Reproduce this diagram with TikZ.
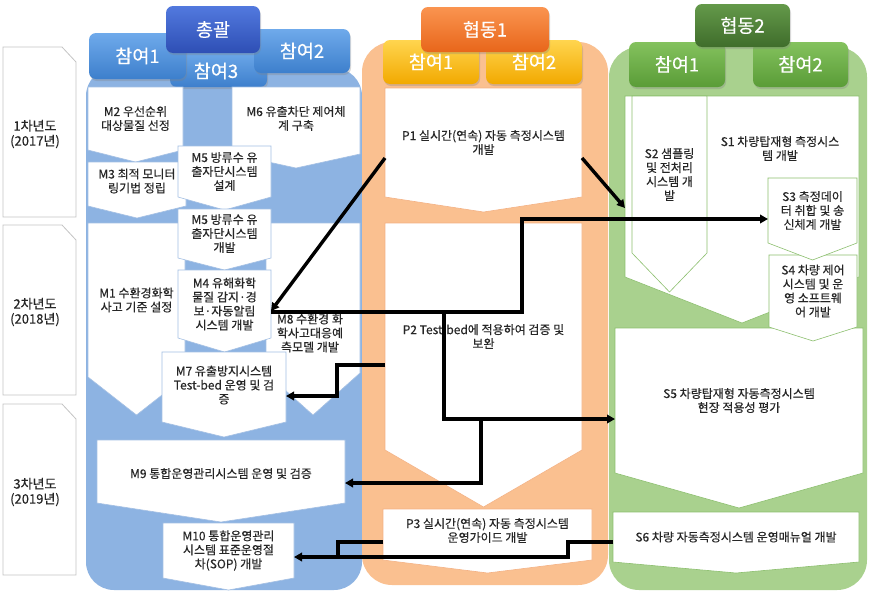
\documentclass[tikz,border=0pt]{standalone}
\usepackage{fontspec}
\setmainfont{Noto Sans CJK KR}
\newfontfamily\boxfont{Noto Sans CJK KR}[FakeBold=0.3]
\usetikzlibrary{shadows,arrows.meta,calc}
\definecolor{bluebg}{HTML}{8DB3E2}
\definecolor{orangebg}{HTML}{FAC090}
\definecolor{greenbg}{HTML}{A9D18E}
\definecolor{bluebd}{HTML}{A3BFE3}
\definecolor{orangebd}{HTML}{F4B183}
\definecolor{greenbd}{HTML}{8CBF6E}
\definecolor{yearbd}{HTML}{C4C4C4}
\definecolor{txtc}{HTML}{262626}
\definecolor{chongT}{HTML}{5279DE}
\definecolor{chongB}{HTML}{2E4FB5}
\definecolor{bpT}{HTML}{6FAAEB}
\definecolor{bpB}{HTML}{3D7FCC}
\definecolor{hdoT}{HTML}{FA9450}
\definecolor{hdoB}{HTML}{E8661A}
\definecolor{ylT}{HTML}{FFD54F}
\definecolor{ylB}{HTML}{F2A900}
\definecolor{hdgT}{HTML}{64994A}
\definecolor{hdgB}{HTML}{3F6D2B}
\definecolor{gpT}{HTML}{84C25E}
\definecolor{gpB}{HTML}{5A9C37}
\tikzset{
  chevst/.style={fill=white, draw=#1, line width=0.6pt, line join=miter},
  boxarea/.style={inner sep=0pt, outer sep=0pt, draw=none, rectangle},
  txt/.style={align=center, text=txtc, font=\boxfont\fontsize{12}{14}\selectfont, inner sep=1pt},
  hdr/.style={rounded corners=7pt, text=white, font=\boxfont\fontsize{18.5}{20}\selectfont, inner sep=0pt,
    drop shadow={opacity=0.3, shadow xshift=1pt, shadow yshift=-2pt}},
  conn/.style={line width=3.4pt, draw=black, line join=miter},
  arr/.style={-{Triangle[length=8pt,width=8.5pt]}},
  yearbox/.style={fill=white, draw=yearbd, line width=0.8pt},
  yeartxt/.style={align=center, font=\boxfont\fontsize{13}{15}\selectfont, text=txtc, inner sep=0pt},
}
\newcommand\chev[7]{%
  \path[chevst=#7] (#2,#3) -- (#4,#3) -- (#4,#5) -- ({(#2+#4)/2},#6) -- (#2,#5) -- cycle;
  \node[boxarea, minimum width={#4-#2}, minimum height={#5-#3}] (#1) at ({(#2+#4)/2},{(#3+#5)/2}) {};
}
\newcommand\yearshape[2]{%
  \path[yearbox] (3,#1) -- (62,#1) -- (76,{#1+15}) -- (76,#2) -- (3,#2) -- cycle;
}
\begin{document}
\begin{tikzpicture}[x=1pt,y=-1pt]
\useasboundingbox (0,0) rectangle (870,592);
\fill[white] (0,0) rectangle (870,592);

% year labels
\yearshape{47}{217}
\node[yeartxt] (yr1) at (35,134) {1차년도\\(2017년)};
\yearshape{225}{395}
\node[yeartxt] (yr2) at (35,312) {2차년도\\(2018년)};
\yearshape{404}{575}
\node[yeartxt] (yr3) at (35,492) {3차년도\\(2019년)};

% column backgrounds
\fill[bluebg, rounded corners=28pt] (86,68) rectangle (362,590);
\fill[orangebg, rounded corners=30pt] (362,42) rectangle (608,585);
\fill[greenbg, rounded corners=30pt] (609,47) rectangle (867,590);

% blue headers
\node[hdr, top color=bpT, bottom color=bpB, minimum width=97, minimum height=37] (bh3) at (218.5,68.5) {};
\node[text=white, font=\boxfont\fontsize{18.5}{20}\selectfont, inner sep=0pt] (bh3t) at (216,71) {참여3};
\node[hdr, top color=bpT, bottom color=bpB, minimum width=97, minimum height=46] (bh1) at (137.5,56) {참여1};
\node[hdr, top color=bpT, bottom color=bpB, minimum width=96, minimum height=44] (bh2) at (302,51) {참여2};
\node[hdr, top color=chongT, bottom color=chongB, minimum width=94, minimum height=47] (bh0) at (213,29.5) {총괄};

% orange headers
\node[hdr, top color=ylT, bottom color=ylB, minimum width=96, minimum height=44] (oh1) at (431,62) {참여1};
\node[hdr, top color=ylT, bottom color=ylB, minimum width=96, minimum height=44] (oh2) at (534,62) {참여2};
\node[hdr, top color=hdoT, bottom color=hdoB, minimum width=128, minimum height=45] (oh0) at (485,29.5) {협동1};

% green headers
\node[hdr, top color=gpT, bottom color=gpB, minimum width=96, minimum height=45] (gh1) at (677,64.5) {참여1};
\node[hdr, top color=gpT, bottom color=gpB, minimum width=95, minimum height=45] (gh2) at (800.5,64.5) {참여2};
\node[hdr, top color=hdgT, bottom color=hdgB, minimum width=95, minimum height=43] (gh0) at (742.5,25.5) {협동2};

% blue boxes
\chev{M2}{88}{87}{183}{150}{162}{bluebd}
\chev{M6}{232}{87}{360}{154}{168}{bluebd}
\chev{M3}{88}{162}{186}{206}{218}{bluebd}
\chev{M5a}{178}{146}{271}{197}{210}{bluebd}
\chev{M1}{88}{223}{185}{377}{415}{bluebd}
\chev{M8}{266}{223}{360}{373}{415}{bluebd}
\chev{M5b}{178}{209}{271}{258}{270}{bluebd}
\chev{M4}{178}{270}{271}{338}{352}{bluebd}
\chev{M7}{162}{352}{286}{422}{437}{bluebd}
\chev{M9}{97}{440}{345}{503}{522}{bluebd}
\chev{M10}{163}{523}{294}{578}{590}{bluebd}

\node[txt] (M2t) at (M2) {M2 우선순위\\대상물질 선정};
\node[txt] (M6t) at ([yshift=2pt]M6) {M6 유출차단 제어체\\계 구축};
\node[txt] (M3t) at ([yshift=3pt]M3) {M3 최적 모니터\\링기법 정립};
\node[txt] (M5at) at (M5a) {M5 방류수 유\\출자단시스템\\설계};
\node[txt] (M1t) at (M1) {M1 수환경화학\\사고 기준 설정};
\node[txt] (M8t) at ([xshift=-3pt,yshift=-35pt]M8) {M8 수환경 화\\학사고대응예\\측모델 개발};
\node[txt] (M5bt) at (M5b) {M5 방류수 유\\출자단시스템\\개발};
\node[txt] (M4t) at (M4) {M4 유해화학\\물질 감지·경\\보·자동알림\\시스템 개발};
\node[txt] (M7t) at ([yshift=2pt]M7) {M7 유출방지시스템\\Test-bed 운영 및 검\\증};
\node[txt] (M9t) at ([yshift=-2pt]M9) {M9 통합운영관리시스템 운영 및 검증};
\node[txt] (M10t) at (M10) {M10 통합운영관리\\시스템 표준운영절\\차(SOP) 개발};

% orange boxes
\chev{P1}{385}{88}{582}{197}{212}{orangebd}
\chev{P2}{385}{223}{582}{450}{507}{orangebd}
\chev{P3}{383}{509}{592}{560}{573}{orangebd}
\node[txt] (P1t) at (P1) {P1 실시간(연속) 자동 측정시스템\\개발};
\node[txt] (P2t) at (P2) {P2 Test-bed에 적용하여 검증 및\\보완};
\node[txt] (P3t) at ([yshift=4pt]P3) {P3 실시간(연속) 자동 측정시스템\\운영가이드 개발};

% green boxes
\chev{S1}{625}{96}{859}{277}{323}{greenbd}
\chev{S2}{632}{96}{707}{253}{292}{greenbd}
\chev{S5}{615}{328}{863}{473}{508}{greenbd}
\chev{S4}{769}{255}{857}{327}{341}{greenbd}
\chev{S3}{768}{178}{857}{243}{260}{greenbd}
\chev{S6}{613}{512}{859}{562}{573}{greenbd}
\node[txt] (S1t) at ([xshift=38pt,yshift=38pt]S1) {S1 차량탑재형 측정시스\\템 개발};
\node[txt] (S2t) at (S2) {S2 샘플링\\및 전처리\\시스템 개\\발};
\node[txt] (S3t) at (S3) {S3 측정데이\\터 취합 및 송\\신체계 개발};
\node[txt] (S4t) at (S4) {S4 차량 제어\\시스템 및 운\\영 소프트웨\\어 개발};
\node[txt] (S5t) at (S5) {S5 차량탑재형 자동측정시스템\\현장 적용성 평가};
\node[txt] (S6t) at (S6) {S6 차량 자동측정시스템 운영매뉴얼 개발};

% connectors
\coordinate (jA) at (444,312);
\coordinate (jB) at (481,419);
\coordinate (jC) at (338,557);
\draw[conn,arr] (P1.west |- 0,158) -- (M4.east |- 0,311);
\draw[conn,arr] (P1.east |- 0,158) -- (S1.west |- 0,208);
\draw[conn,arr] (M4.east |- 0,312) -| (522,219) -- (S3.west |- 0,219);
\draw[conn,arr] (jA) |- (S5.west |- 0,419);
\draw[conn,arr] (jB) |- (M9.east |- 0,483);
\draw[conn,arr] (P2.west |- 0,365) -| (337,396) -- (M7.east |- 0,396);
\draw[conn] (P3.west |- 0,542) -| (jC);
\draw[conn,arr] (S6.west |- 0,542) -| (568,557) -- (M10.east |- 0,557);
\end{tikzpicture}
\end{document}
